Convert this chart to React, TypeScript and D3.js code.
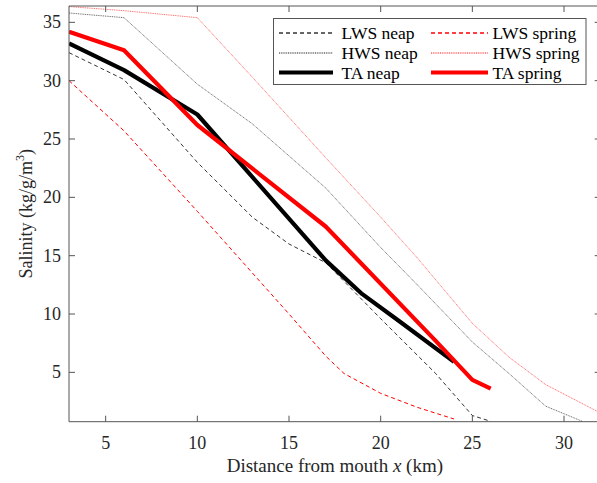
import React from "react";
import * as d3 from "d3";

// ---- data (km from mouth, salinity) ----
const kmLWSneap = [3, 6, 10, 13, 15, 17, 20, 23, 25, 26];
const salLWSneap = [32.4, 30.1, 23.0, 18.3, 16.0, 14.4, 9.6, 4.9, 1.3, 0.8];

const kmHWSneap = [3, 6, 10, 13, 17, 20, 22, 25, 27, 29, 31];
const salHWSneap = [35.8, 35.4, 29.7, 26.3, 20.8, 15.7, 12.5, 7.6, 4.9, 2.1, 0.8];

const kmTAneap = [3, 6, 10, 17, 19, 21, 24];
const salTAneap = [33.2, 30.9, 27.1, 14.6, 11.7, 9.4, 5.9];

const kmLWSspring = [3, 6, 10, 15, 17, 18, 20, 22, 24];
const salLWSspring = [30.0, 25.7, 18.8, 10.0, 6.4, 4.9, 3.2, 2.0, 1.0];

const kmHWSspring = [3, 6, 10, 13, 17, 20, 22, 25, 27, 29, 32];
const salHWSspring = [36.35, 36.0, 35.4, 30.3, 23.4, 18.3, 14.8, 9.2, 6.3, 3.95, 1.5];

const kmTAspring = [3, 6, 10, 17, 23, 25, 26];
const salTAspring = [34.2, 32.6, 26.2, 17.5, 7.7, 4.35, 3.6];

const xTicks = [5, 10, 15, 20, 25, 30];
const yTicks = [5, 10, 15, 20, 25, 30, 35];

const xDomain = [3, 32];
const yDomain = [0.77, 36.4];

type Series = {
  name: string;
  km: number[];
  sal: number[];
  color: string;
  width: number;
  dash?: string;
  opacity?: number;
};

const series: Series[] = [
  { name: "LWS neap", km: kmLWSneap, sal: salLWSneap, color: "#000000", width: 1, dash: "4,3", opacity: 0.8 },
  { name: "LWS spring", km: kmLWSspring, sal: salLWSspring, color: "#ff0000", width: 1, dash: "4,3", opacity: 1 },
  { name: "HWS neap", km: kmHWSneap, sal: salHWSneap, color: "#000000", width: 1, dash: "1,0.8", opacity: 0.6 },
  { name: "HWS spring", km: kmHWSspring, sal: salHWSspring, color: "#ff0000", width: 1, dash: "1,0.8", opacity: 0.6 },
  { name: "TA neap", km: kmTAneap, sal: salTAneap, color: "#000000", width: 4.2 },
  { name: "TA spring", km: kmTAspring, sal: salTAspring, color: "#ff0000", width: 4.2 },
];

const W = 597;
const H = 483;
const left = 69;
const right = 600.7;
const top = 6;
const bottom = 421.7;

export default function App() {
  const x = d3.scaleLinear().domain(xDomain).range([left, right]);
  const y = d3.scaleLinear().domain(yDomain).range([bottom, top]);
  const line = d3
    .line<[number, number]>()
    .x((d) => x(d[0]))
    .y((d) => y(d[1]));

  const axisColor = "#555555";
  const font = "'Liberation Serif', 'Times New Roman', serif";
  const tickLen = 6;

  // legend layout
  const legX = 273.5;
  const legY = 18.5;
  const legW = 312.5;
  const legH = 66;
  const rowsY = [33, 53, 72.5];
  const col1 = [279, 333, 341.5];
  const col2 = [431, 488, 492.5];
  const legendOrder = [
    ["LWS neap", "LWS spring"],
    ["HWS neap", "HWS spring"],
    ["TA neap", "TA spring"],
  ];
  const byName = (n: string) => series.find((s) => s.name === n)!;

  return (
    <svg
      width={W}
      height={H}
      style={{ position: "absolute", left: 0, top: 0, background: "#fff" }}
      fontFamily={font}
    >
      <rect x={0} y={0} width={W} height={H} fill="#fff" />
      <defs>
        <clipPath id="plotclip">
          <rect x={left} y={top - 1} width={right - left} height={bottom - top + 2} />
        </clipPath>
      </defs>

      {/* data lines */}
      <g clipPath="url(#plotclip)">
        {series.map((s) => (
          <path
            key={s.name}
            d={line(s.km.map((k, i) => [k, s.sal[i]] as [number, number])) || ""}
            fill="none"
            stroke={s.color}
            strokeWidth={s.width}
            strokeDasharray={s.dash}
            strokeOpacity={s.opacity ?? 1}
            strokeLinejoin="round"
          />
        ))}
      </g>

      {/* axes box */}
      <g stroke={axisColor} strokeWidth={1} fill="none">
        <line x1={left} x2={left} y1={top} y2={bottom} />
        <line x1={left} x2={right} y1={bottom} y2={bottom} />
        <line x1={left} x2={right} y1={top} y2={top} />
        <line x1={right} x2={right} y1={top} y2={bottom} />
        {xTicks.map((t) => (
          <g key={"xt" + t}>
            <line x1={x(t)} x2={x(t)} y1={bottom} y2={bottom - tickLen} />
            <line x1={x(t)} x2={x(t)} y1={top} y2={top + tickLen} />
          </g>
        ))}
        {yTicks.map((t) => (
          <g key={"yt" + t}>
            <line x1={left} x2={left + tickLen} y1={y(t)} y2={y(t)} />
            <line x1={right} x2={right - tickLen} y1={y(t)} y2={y(t)} />
          </g>
        ))}
      </g>

      {/* tick labels */}
      <g fill="#262626" fontSize={18}>
        {xTicks.map((t) => (
          <text key={"xl" + t} x={x(t)} y={448.5} textAnchor="middle">
            {t}
          </text>
        ))}
        {yTicks.map((t) => (
          <text key={"yl" + t} x={61} y={y(t) + 6} textAnchor="end">
            {t}
          </text>
        ))}
      </g>

      {/* axis labels */}
      <text x={(left + right) / 2} y={472} textAnchor="middle" fontSize={19} fill="#262626">
        Distance from mouth <tspan fontStyle="italic">x</tspan> (km)
      </text>
      <text
        transform={`translate(32, ${(top + bottom) / 2}) rotate(-90)`}
        textAnchor="middle"
        fontSize={18}
        fill="#262626"
      >
        Salinity (kg/g/m
        <tspan fontSize={12} dy={-8}>
          3
        </tspan>
        <tspan dy={8}>)</tspan>
      </text>

      {/* legend */}
      <rect x={legX} y={legY} width={legW} height={legH} fill="#fff" stroke={axisColor} strokeWidth={1} />
      {legendOrder.map((row, ri) =>
        row.map((name, ci) => {
          const s = byName(name);
          const c = ci === 0 ? col1 : col2;
          return (
            <g key={name}>
              <path
                d={`M${c[0]},${rowsY[ri]}H${c[1]}`}
                fill="none"
                style={{
                  stroke: s.color,
                  strokeWidth: s.width === 1 ? 1.3 : s.width,
                  strokeDasharray: s.dash,
                  strokeOpacity: s.opacity ?? 1,
                }}
              />
              <text x={c[2]} y={rowsY[ri] + 6} fontSize={17.5} fill="#000">
                {name}
              </text>
            </g>
          );
        })
      )}
    </svg>
  );
}
